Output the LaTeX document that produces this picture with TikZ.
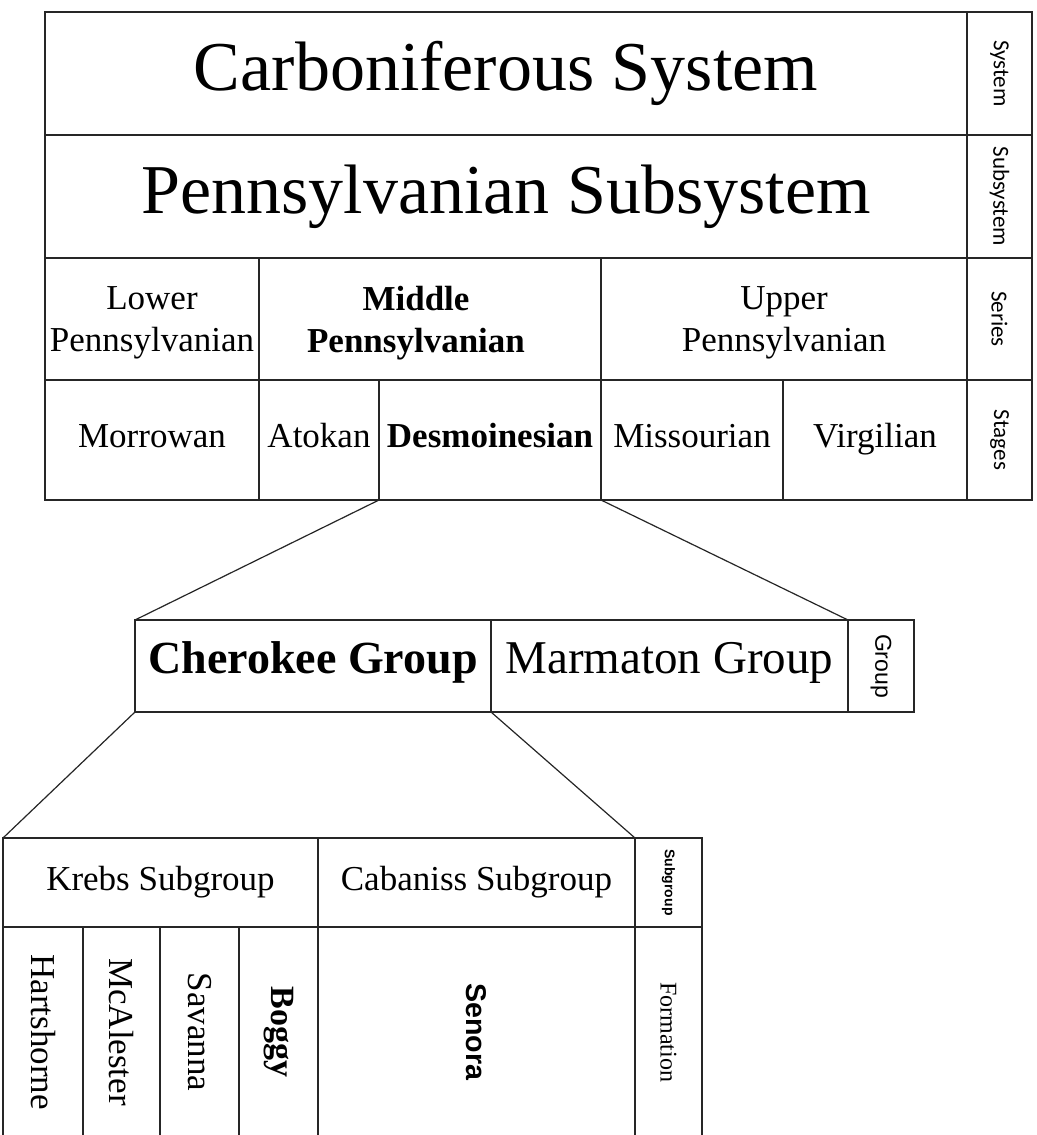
\documentclass[tikz,border=0pt]{standalone}
\usepackage{fontspec}
\setmainfont{Liberation Serif}
\newfontfamily\labsans{Carlito}
\newfontfamily\arsans{Liberation Sans}
\usetikzlibrary{fit}
\begin{document}
\begin{tikzpicture}[x=0.5pt,y=-0.5pt,
  cell/.style={draw=black!85, line width=0.75pt, inner sep=0pt, outer sep=0pt},
  conn/.style={draw=black!85, line width=0.6pt},
  txt/.style={inner sep=0pt, align=center},
  one/.style={text height=0.85em, text depth=0.1em},
  big/.style={txt, font=\fontsize{35}{40}\selectfont},
  mid/.style={txt, font=\fontsize{17.5}{19}\selectfont},
  midb/.style={txt, font=\fontsize{17.5}{19}\selectfont\bfseries},
  grp/.style={txt, font=\fontsize{23.5}{26}\selectfont},
  grpb/.style={txt, font=\fontsize{23}{26}\selectfont\bfseries},
  vlab/.style={txt, rotate=-90, font=\labsans\fontsize{11.5}{13}\selectfont},
  vform/.style={txt, rotate=-90, font=\fontsize{17.5}{19}\selectfont},
  vformb/.style={txt, rotate=-90, font=\fontsize{17}{19}\selectfont\bfseries}]
\useasboundingbox[fill=white] (0,0) rectangle (1037,1135);
\clip (0,0) rectangle (1037,1135);

% ---------- top table ----------
\node[cell, fit={(45,12)(967,135)}] (carb) {};
\node[big] (tcarb) at (carb.center) {Carboniferous System};
\node[cell, fit={(967,12)(1032,135)}] (lsys) {};
\node[vlab] (tsys) at (lsys.center) {System};

\node[cell, fit={(45,135)(967,258)}] (penn) {};
\node[big] (tpenn) at (penn.center) {Pennsylvanian Subsystem};
\node[cell, fit={(967,135)(1032,258)}] (lsub) {};
\node[vlab] (tsub) at (lsub.center) {Subsystem};

\node[cell, fit={(45,258)(259,380)}] (lower) {};
\node[mid] (tlower) at ([yshift=-2pt]lower.center) {Lower\\[2pt]Pennsylvanian};
\node[cell, fit={(259,258)(601,380)}] (middle) {};
\node[midb] (tmiddle) at ([xshift=-7pt,yshift=-2pt]middle.center) {Middle\\[2pt]Pennsylvanian};
\node[cell, fit={(601,258)(967,380)}] (upper) {};
\node[mid] (tupper) at ([yshift=-2pt]upper.center) {Upper\\[2pt]Pennsylvanian};
\node[cell, fit={(967,258)(1032,380)}] (lser) {};
\node[vlab] (tser) at (lser.center) {Series};

\node[cell, fit={(45,380)(259,500)}] (morr) {};
\node[mid, one] (tmorr) at (morr.center) {Morrowan};
\node[cell, fit={(259,380)(379,500)}] (atok) {};
\node[mid, one] (tatok) at (atok.center) {Atokan};
\node[cell, fit={(379,380)(601,500)}] (desm) {};
\node[midb, one] (tdesm) at (desm.center) {Desmoinesian};
\node[cell, fit={(601,380)(783,500)}] (miss) {};
\node[mid, one] (tmiss) at (miss.center) {Missourian};
\node[cell, fit={(783,380)(967,500)}] (virg) {};
\node[mid, one] (tvirg) at (virg.center) {Virgilian};
\node[cell, fit={(967,380)(1032,500)}] (lsta) {};
\node[vlab] (tsta) at (lsta.center) {Stages};

% ---------- group table ----------
\node[cell, fit={(135,620)(491,712)}] (cher) {};
\node[grpb, one] (tcher) at (cher.center) {Cherokee Group};
\node[cell, fit={(491,620)(848,712)}] (marm) {};
\node[grp, one] (tmarm) at (marm.center) {Marmaton Group};
\node[cell, fit={(848,620)(914,712)}] (lgrp) {};
\node[txt, rotate=-90, font=\arsans\fontsize{11.5}{13}\selectfont] (tgrp) at (lgrp.center) {Group};

% ---------- subgroup table ----------
\node[cell, fit={(3,838)(318,927)}] (krebs) {};
\node[mid, one] (tkrebs) at (krebs.center) {Krebs Subgroup};
\node[cell, fit={(318,838)(635,927)}] (caban) {};
\node[mid, one] (tcaban) at (caban.center) {Cabaniss Subgroup};
\node[cell, fit={(635,838)(702,927)}] (lsg) {};
\node[txt, rotate=-90, font=\arsans\bfseries\fontsize{7}{8}\selectfont] (tsg) at (lsg.center) {Subgroup};

\node[cell, fit={(3,927)(83,1137)}] (hart) {};
\node[vform] (thart) at (hart.center) {Hartshorne};
\node[cell, fit={(83,927)(160,1137)}] (mcal) {};
\node[vform] (tmcal) at (mcal.center) {McAlester};
\node[cell, fit={(160,927)(239,1137)}] (sava) {};
\node[vform] (tsava) at (sava.center) {Savanna};
\node[cell, fit={(239,927)(318,1137)}] (bogg) {};
\node[vformb] (tbogg) at (bogg.center) {Boggy};
\node[cell, fit={(318,927)(635,1137)}] (seno) {};
\node[txt, rotate=-90, font=\arsans\bfseries\fontsize{14.3}{16}\selectfont] (tseno) at (seno.center) {Senora};
\node[cell, fit={(635,927)(702,1137)}] (lform) {};
\node[txt, rotate=-90, font=\fontsize{12}{14}\selectfont] (tform) at (lform.center) {Formation};

% ---------- connectors ----------
\draw[conn] (desm.south west) -- (cher.north west);
\draw[conn] (desm.south east) -- (marm.north east);
\draw[conn] (cher.south west) -- (krebs.north west);
\draw[conn] (cher.south east) -- (caban.north east);
\end{tikzpicture}
\end{document}
